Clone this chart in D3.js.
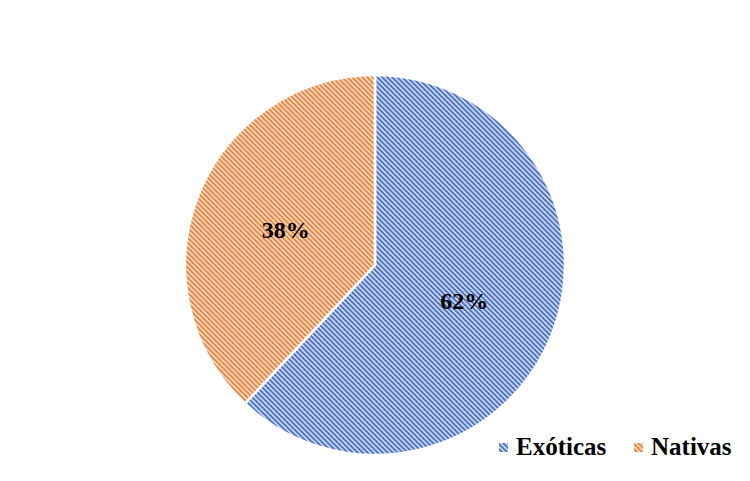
<!DOCTYPE html>
<html><head><meta charset="utf-8">
<script src="https://cdn.jsdelivr.net/npm/d3@7"></script>
<style>body{margin:0;background:#fff}</style>
</head><body>
<svg id="c" width="750" height="481"></svg>
<script>
const categories = ["Exóticas", "Nativas"];
const values = [62, 38];
const labels = ["62%", "38%"];
const colors = {bg: ["#c6d5f1", "#fdd6b7"], fg: ["#4f72bd", "#e0884c"]};

const svg = d3.select("#c");
const defs = svg.append("defs");
const w = 5;
categories.forEach((c, i) => {
  const p = defs.append("pattern").attr("id", "p" + i).attr("patternUnits", "userSpaceOnUse")
    .attr("width", w).attr("height", w);
  p.append("rect").attr("width", w).attr("height", w).attr("fill", colors.bg[i]);
  p.append("path").attr("d", `M-1,-1L${w+1},${w+1}M-1,${w-1}L1,${w+1}M${w-1},-1L${w+1},1`)
    .attr("stroke", colors.fg[i]).attr("stroke-width", 1.8);
});

const cx = 375, cy = 265, r = 190;
const pie = d3.pie().sort(null).value(d => d)(values);
const arc = d3.arc().innerRadius(0).outerRadius(r);
const g = svg.append("g").attr("transform", `translate(${cx},${cy})`);
g.selectAll("path").data(pie).join("path")
  .attr("d", arc).attr("fill", (d, i) => `url(#p${i})`)
  .attr("stroke", "#fff").attr("stroke-width", 2.5);

const labelArc = d3.arc().innerRadius(r * 0.505).outerRadius(r * 0.505);
g.selectAll("text").data(pie).join("text")
  .attr("transform", d => `translate(${labelArc.centroid(d)})`)
  .attr("text-anchor", "middle").attr("dy", "0.35em")
  .style("font-family", "'Liberation Serif', 'Times New Roman', serif")
  .style("font-weight", "bold").style("font-size", "24px").attr("fill", "#000")
  .text((d, i) => labels[i]);

const legX = [499, 634];
const lg = svg.append("g");
categories.forEach((c, i) => {
  lg.append("rect").attr("x", legX[i]).attr("y", 443).attr("width", 9).attr("height", 9)
    .attr("fill", `url(#p${i})`);
  lg.append("text").attr("x", legX[i] + 17).attr("y", 455)
    .style("font-family", "'Liberation Serif', 'Times New Roman', serif")
    .style("font-weight", "bold").style("font-size", "25px").attr("fill", "#000")
    .text(c);
});
</script>
</body></html>
